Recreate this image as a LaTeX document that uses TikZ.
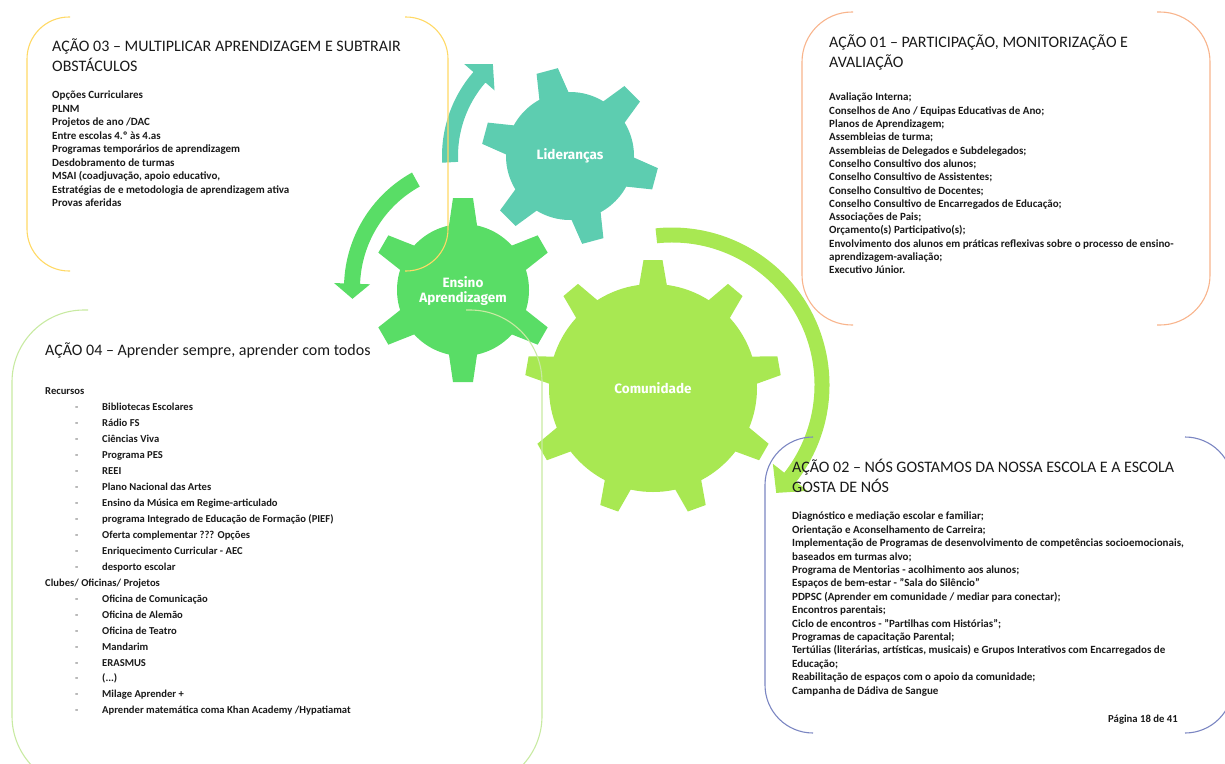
\documentclass[tikz,border=0pt]{standalone}
\usepackage{fontspec}
\setmainfont{Carlito}
\newfontfamily\gearfont{Fira Sans}
\definecolor{lidcol}{HTML}{5DCDB0}
\definecolor{enscol}{HTML}{59DD66}
\definecolor{comcol}{HTML}{A8E852}
\definecolor{frame03}{HTML}{FFD966}
\definecolor{frame01}{HTML}{F8B48C}
\definecolor{frame04}{HTML}{C8EAA2}
\definecolor{frame02}{HTML}{7B86C2}
\definecolor{txt}{HTML}{1A1A1A}
\newcommand{\listdash}{\hspace*{30pt}\makebox[27pt][l]{\textcolor{gray}{-}}}

\begin{document}
\begin{tikzpicture}[x=1pt, y=1pt,
    bracket/.style = {line width=1.1pt},
    acaotitle/.style = {anchor=north west, inner sep=0, align=left, text=txt, font=\fontsize{16}{20}\selectfont},
    acaoitems/.style = {anchor=north west, inner sep=0, align=left, text=txt, font=\fontsize{11}{13.4}\selectfont\bfseries},
    gearlabel/.style = {inner sep=0, align=center, text=white, font=\gearfont\bfseries\fontsize{13.5}{15}\selectfont}]
\clip (0,0) rectangle (1225,-763);

% gears
\fill[lidcol] (570,-156) circle (64);
\foreach \a in {45,105,...,345}
    \fill[lidcol, shift={(570,-156)}, rotate=\a] (56,-16) -- (88,-11) -- (88,11) -- (56,16) -- cycle;
\fill[enscol] (463,-290) circle (66);
\foreach \a in {30,90,...,330}
    \fill[enscol, shift={(463,-290)}, rotate=\a] (58,-15) -- (92,-10) -- (92,10) -- (58,15) -- cycle;
\fill[comcol] (653,-388) circle (104);
\foreach \a in {10,50,...,330}
    \fill[comcol, shift={(653,-388)}, rotate=\a] (96,-15) -- (128,-9.5) -- (128,9.5) -- (96,15) -- cycle;

% curved arrows
\fill[lidcol, shift={(570,-156)}] (183:112) arc[start angle=183, end angle=139, radius=112]
    -- (139:100) -- (130:120) -- (139:140) -- (139:128) arc[start angle=139, end angle=183, radius=128] -- cycle;
\fill[enscol, shift={(476,-288)}] (119:116) arc[start angle=119, end angle=178, radius=116]
    -- (178:106) -- (185:124) -- (178:142) -- (178:132) arc[start angle=178, end angle=119, radius=132] -- cycle;
\fill[comcol, shift={(672,-385)}] (96:142.5) arc[start angle=96, end angle=-38, radius=142.5]
    -- (-38:128) -- (-46:150) -- (-38:172) -- (-38:157.5) arc[start angle=-38, end angle=96, radius=157.5] -- cycle;

\node[gearlabel] (lid) at (570,-156) {Lideranças};
\node[gearlabel] (ens) at (463,-291) {Ensino\\Aprendizagem};
\node[gearlabel] (com) at (653,-388) {Comunidade};

% frames
\draw[bracket, frame03, rounded corners=42] (70,-17) -- (27,-17) -- (27,-271) -- (70,-271);
\draw[bracket, frame03, rounded corners=42] (405,-17) -- (448,-17) -- (448,-271) -- (405,-271);
\draw[bracket, frame01, rounded corners=50] (853,-12) -- (802,-12) -- (802,-325) -- (853,-325);
\draw[bracket, frame01, rounded corners=50] (1157,-12) -- (1210,-12) -- (1210,-325) -- (1157,-325);
\draw[bracket, frame04, rounded corners=72] (88,-310) -- (12,-310) -- (12,-788) -- (88,-788);
\draw[bracket, frame04, rounded corners=72] (466,-310) -- (542,-310) -- (542,-788) -- (466,-788);
\draw[bracket, frame02, rounded corners=48] (813,-437) -- (765,-437) -- (765,-733) -- (813,-733);
\draw[bracket, frame02, rounded corners=48] (1185,-437) -- (1233,-437) -- (1233,-733) -- (1185,-733);

% AÇÃO 03
\node[acaotitle] (t03) at (52,-37.3) {\strut AÇÃO 03 – MULTIPLICAR APRENDIZAGEM E SUBTRAIR\\OBSTÁCULOS};
\node[acaoitems, font=\fontsize{11}{13.5}\selectfont\bfseries] (l03) at (52,-89.3) {\strut Opções Curriculares\\PLNM\\Projetos de ano /DAC\\Entre escolas 4.º às 4.as\\Programas temporários de aprendizagem\\Desdobramento de turmas\\MSAI (coadjuvação, apoio educativo,\\Estratégias de  e metodologia de aprendizagem ativa\\Provas aferidas};

% AÇÃO 01
\node[acaotitle] (t01) at (829,-33.3) {\strut AÇÃO 01 – PARTICIPAÇÃO, MONITORIZAÇÃO E\\AVALIAÇÃO};
\node[acaoitems, font=\fontsize{11}{13.3}\selectfont\bfseries] (l01) at (829,-91.4) {\strut Avaliação Interna;\\Conselhos de Ano / Equipas Educativas de Ano;\\Planos de Aprendizagem;\\Assembleias de turma;\\Assembleias de Delegados e Subdelegados;\\Conselho Consultivo dos alunos;\\Conselho Consultivo de Assistentes;\\Conselho Consultivo de Docentes;\\Conselho Consultivo de Encarregados de Educação;\\Associações de Pais;\\Orçamento(s) Participativo(s);\\Envolvimento dos alunos em práticas reflexivas sobre o processo de ensino-\\aprendizagem-avaliação;\\Executivo Júnior.};

% AÇÃO 04
\node[acaotitle] (t04) at (45,-340.8) {\strut AÇÃO 04 – Aprender sempre, aprender com todos};
\node[acaoitems, font=\fontsize{10.6}{15.95}\selectfont\bfseries] (l04) at (45,-383.5) {\strut Recursos\\
\listdash Bibliotecas Escolares\\\listdash Rádio FS\\\listdash Ciências Viva\\\listdash Programa PES\\\listdash REEI\\
\listdash Plano Nacional das Artes\\\listdash Ensino da Música em Regime-articulado\\
\listdash programa Integrado de Educação de Formação (PIEF)\\\listdash Oferta complementar ??? Opções\\
\listdash Enriquecimento Curricular - AEC\\\listdash desporto escolar\\
Clubes/ Oficinas/ Projetos\\
\listdash Oficina de Comunicação\\\listdash Oficina de Alemão\\\listdash Oficina de Teatro\\\listdash Mandarim\\
\listdash ERASMUS\\\listdash (...)\\\listdash Milage Aprender +\\\listdash Aprender matemática coma Khan Academy /Hypatiamat};

% AÇÃO 02
\node[acaotitle] (t02) at (792,-458.3) {\strut AÇÃO 02 – NÓS GOSTAMOS DA NOSSA ESCOLA E A ESCOLA\\GOSTA DE NÓS};
\node[acaoitems, font=\fontsize{11}{13.4}\selectfont\bfseries] (l02) at (792,-510.3) {\strut Diagnóstico e mediação escolar e familiar;\\Orientação e Aconselhamento de Carreira;\\Implementação de Programas de desenvolvimento de competências socioemocionais,\\baseados em turmas alvo;\\Programa de Mentorias - acolhimento aos alunos;\\Espaços de bem-estar - "Sala do Silêncio"\\PDPSC (Aprender em comunidade / mediar para conectar);\\Encontros parentais;\\Ciclo de encontros - "Partilhas com Histórias";\\Programas de capacitação Parental;\\Tertúlias (literárias, artísticas, musicais) e Grupos Interativos com Encarregados de\\Educação;\\Reabilitação de espaços com o apoio da comunidade;\\Campanha de Dádiva de Sangue};
\node[anchor=base east, inner sep=0, text=txt, font=\fontsize{10.7}{12}\selectfont\bfseries] (pag) at (1178,-722.3) {Página 18 de 41};
\end{tikzpicture}
\end{document}
